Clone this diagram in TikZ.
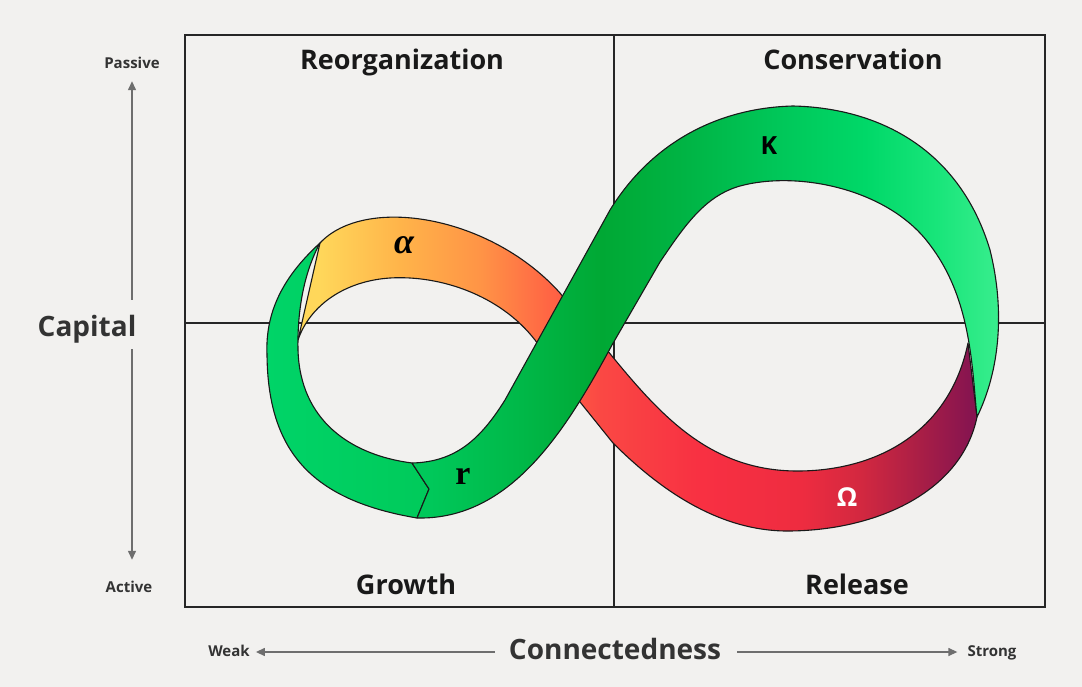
\documentclass[tikz,border=0pt]{standalone}
\usepackage{fontspec}
\setmainfont{Open Sans}
\newfontfamily\serifgr{Liberation Serif}
\usetikzlibrary{arrows.meta,calc}

\definecolor{bg}{HTML}{F2F1EF}
\definecolor{axisgray}{HTML}{6E6E6E}
\definecolor{labelgray}{HTML}{333333}
\definecolor{ayellow}{HTML}{FFD75A}
\definecolor{aorange1}{HTML}{FFB44A}
\definecolor{aorange2}{HTML}{FF9446}
\definecolor{ared1}{HTML}{FF6444}
\definecolor{ared2}{HTML}{FA4844}
\definecolor{ored1}{HTML}{F83042}
\definecolor{ored2}{HTML}{EE2C40}
\definecolor{ored3}{HTML}{D22840}
\definecolor{opurple1}{HTML}{A81E46}
\definecolor{opurple2}{HTML}{861450}
\definecolor{kgreen1}{HTML}{00C85A}
\definecolor{kgreen2}{HTML}{00B848}
\definecolor{kgreen3}{HTML}{00A834}
\definecolor{kgreen4}{HTML}{00B444}
\definecolor{kgreen5}{HTML}{00C658}
\definecolor{kgreen6}{HTML}{00D868}
\definecolor{kgreen7}{HTML}{18E57A}
\definecolor{kgreen8}{HTML}{3AEE8E}
\definecolor{rgreenl}{HTML}{00D468}
\definecolor{rgreenr}{HTML}{00CA5A}

\pgfdeclarehorizontalshading{alphaomega}{100bp}{color(0bp)=(ayellow); color(26.6bp)=(ayellow); color(32.5bp)=(aorange1); color(38.4bp)=(aorange2); color(43.6bp)=(ared1); color(47.3bp)=(ared2); color(54.7bp)=(ored1); color(62.1bp)=(ored2); color(66.5bp)=(ored3); color(70.9bp)=(opurple1); color(74.6bp)=(opurple2); color(100bp)=(opurple2)}
\pgfdeclarehorizontalshading{kloop}{100bp}{color(0bp)=(kgreen1); color(26.5bp)=(kgreen1); color(34.2bp)=(kgreen2); color(41bp)=(kgreen3); color(47.9bp)=(kgreen4); color(55.5bp)=(kgreen5); color(63.2bp)=(kgreen6); color(69.2bp)=(kgreen7); color(74.7bp)=(kgreen8); color(100bp)=(kgreen8)}

\begin{document}
\begin{tikzpicture}[x=1pt, y=-1pt,
  title/.style={font=\fontsize{27}{30}\selectfont\bfseries, text=black!90, inner sep=0pt, text height=20pt, text depth=6pt},
  axisname/.style={font=\fontsize{28}{32}\selectfont\bfseries, text=labelgray, inner sep=0pt, text height=20pt, text depth=6pt},
  axisend/.style={font=\fontsize{15}{18}\selectfont\bfseries, text=labelgray, inner sep=0pt, text height=11pt, text depth=3pt},
  axis/.style={draw=axisgray, line width=1.3pt, -{Triangle[length=9pt,width=8pt]}},
  grid/.style={draw=black!85, line width=1.3pt},
  ribbon/.style={draw=black!90, line width=1.1pt, line join=round},
  ribbonlabel/.style={inner sep=0pt}]

\fill[bg] (0,0) rectangle (1082,687);
\useasboundingbox (0,0) rectangle (1082,687);

% quadrants
\draw[grid, line width=1.6pt] (185,35) rectangle (1045,607);
\draw[grid] (614,35) -- (614,607);
\draw[grid] (185,323) -- (1045,323);

% alpha -> omega ribbon (behind)
\path[ribbon, shading=alphaomega] (320,243) .. controls (365,195) and (490,215) .. (560,293)
  -- (607,350) .. controls (660,415) and (710,472) .. (800,471) .. controls (880,470) and (950,430) .. (968,343)
  -- (977,417) .. controls (962,490) and (880,530) .. (790,531) .. controls (720,532) and (660,490) .. (613,443)
  -- (580,402) -- (535,340) .. controls (500,295) and (440,275) .. (390,278) .. controls (345,281) and (310,305) .. (298,340) -- cycle;

% growth loop (left)
\path[ribbon, left color=rgreenl, right color=rgreenr] (320,243) .. controls (285,275) and (265,310) .. (267,355)
  .. controls (268,450) and (310,500) .. (417,518) -- (429,489) -- (412,463)
  .. controls (350,455) and (300,420) .. (298,350) .. controls (297,300) and (308,265) .. (320,243) -- cycle;

% r -> K ribbon (front)
\path[ribbon, shading=kloop] (412,463) .. controls (455,462) and (480,440) .. (505,400) -- (610,210)
  .. controls (650,145) and (715,108) .. (793,106) .. controls (880,108) and (960,150) .. (990,250)
  .. controls (1005,310) and (1000,370) .. (977,417) .. controls (972,370) and (972,300) .. (930,245)
  .. controls (890,190) and (800,170) .. (740,186) .. controls (705,196) and (685,225) .. (660,262)
  -- (612,345) .. controls (565,432) and (510,520) .. (417,518) -- (429,489) -- cycle;

% ribbon labels
\node[ribbonlabel, font=\fontsize{36}{38}\selectfont\serifgr\bfseries\itshape] (alpha) at (404,245) {α};
\node[ribbonlabel, font=\fontsize{34}{36}\selectfont\serifgr\bfseries] (r) at (463,476) {r};
\node[ribbonlabel, font=\fontsize{25}{27}\selectfont\bfseries, text=black] (K) at (769,146) {K};
\node[ribbonlabel, font=\fontsize{26}{28}\selectfont\bfseries, text=white] (omega) at (847,497) {Ω};

% quadrant titles
\node[title] (reorg) at (402,63) {Reorganization};
\node[title] (cons) at (853,63) {Conservation};
\node[title] (growth) at (406,587) {Growth};
\node[title] (release) at (857,587) {Release};

% axes
\node[axisname] (capital) at (87,329) {Capital};
\node[axisend] (passive) at (132,65) {Passive};
\node[axisend] (active) at (129,588) {Active};
\node[axisname] (conn) at (615,652) {Connectedness};
\node[axisend] (weak) at (229,652) {Weak};
\node[axisend] (strong) at (992,652) {Strong};

\draw[axis] ([yshift=16pt]passive |- capital.north) -- ([yshift=-9pt]passive.south);
\draw[axis] ([yshift=-7pt]passive |- capital.south) -- ([yshift=21pt]passive |- active.north);
\draw[axis, shorten <=14pt, shorten >=6pt] (conn.west) -- (conn.west -| weak.east);
\draw[axis, shorten <=16pt, shorten >=10pt] (conn.east) -- (conn.east -| strong.west);
\end{tikzpicture}
\end{document}
